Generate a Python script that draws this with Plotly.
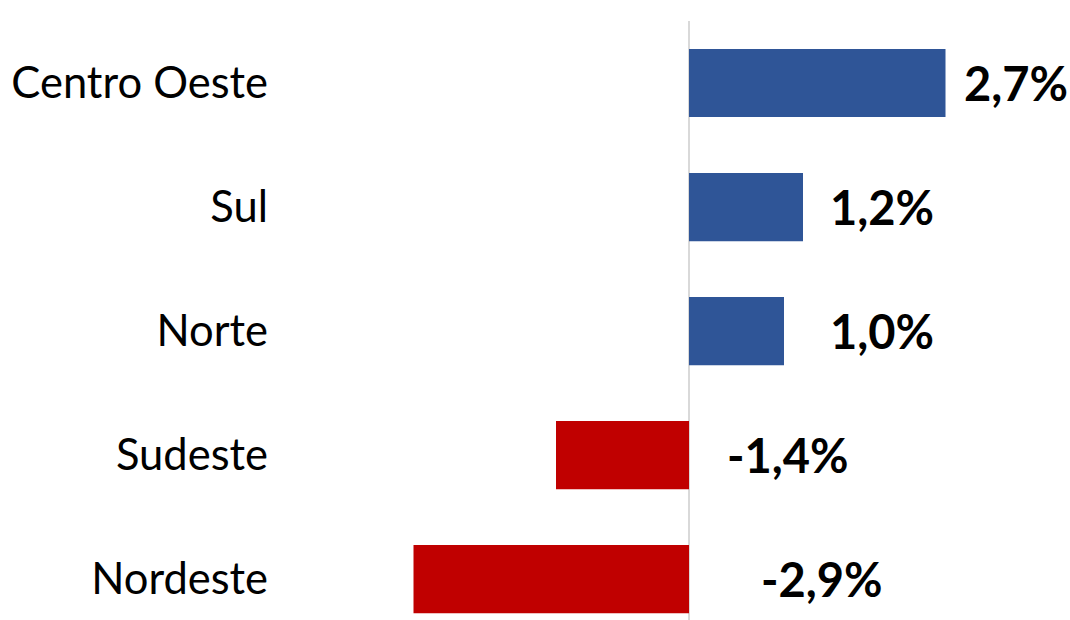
import plotly.graph_objects as go

# Data
regions = ["Centro Oeste", "Sul", "Norte", "Sudeste", "Nordeste"]
values = [2.7, 1.2, 1.0, -1.4, -2.9]
value_labels = ["2,7%", "1,2%", "1,0%", "-1,4%", "-2,9%"]

# Styling / layout parameters (not data)
label_left_x = [2.87, 1.46, 1.46, 0.38, 0.74]  # left edge of value labels (axis units)
POS_COLOR = "#2F5597"
NEG_COLOR = "#C00000"
FONT = "Lato, Carlito, Calibri, sans-serif"

colors = [POS_COLOR if v >= 0 else NEG_COLOR for v in values]

fig = go.Figure(
    go.Bar(
        x=values,
        y=regions,
        orientation="h",
        marker=dict(color=colors, line=dict(width=0)),
        width=0.55,
        hoverinfo="skip",
    )
)

annotations = []
for r, lbl, lx in zip(regions, value_labels, label_left_x):
    annotations.append(
        dict(
            x=lx,
            y=r,
            xref="x",
            yref="y",
            text="<b>" + lbl + "</b>",
            showarrow=False,
            xanchor="left",
            yanchor="middle",
            font=dict(family=FONT, size=47, color="#000000"),
        )
    )

fig.update_layout(
    width=1070,
    height=620,
    margin=dict(l=290, r=0, t=21, b=0),
    paper_bgcolor="white",
    plot_bgcolor="white",
    showlegend=False,
    annotations=annotations,
    font=dict(family=FONT, color="#000000"),
)

fig.update_xaxes(
    range=[-4.2, 4.0105],
    showgrid=False,
    showticklabels=False,
    ticks="",
    zeroline=True,
    zerolinecolor="#D9D9D9",
    zerolinewidth=2,
    showline=False,
    fixedrange=True,
)

fig.update_yaxes(
    type="category",
    categoryorder="array",
    categoryarray=regions,
    range=[4.33, -0.5],
    showgrid=False,
    zeroline=False,
    showline=False,
    ticks="",
    ticklabelstandoff=21,
    tickfont=dict(family=FONT, size=43.5, color="#000000"),
    fixedrange=True,
)

fig.write_html(
    "out.html",
    config={"displayModeBar": False},
    post_script="document.body.style.margin='0';document.body.style.overflow='hidden';",
)
